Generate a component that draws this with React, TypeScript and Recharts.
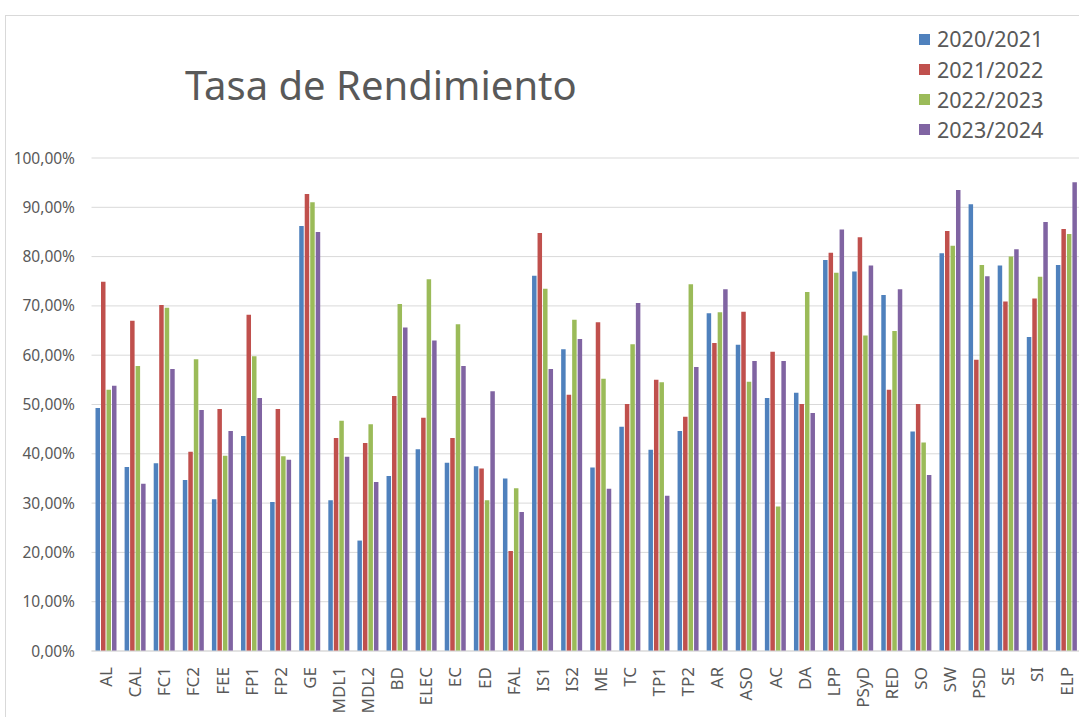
import { Bar, BarChart, CartesianGrid, Legend, XAxis, YAxis } from 'recharts'

const categories = [
  'AL', 'CAL', 'FC1', 'FC2', 'FEE', 'FP1', 'FP2', 'GE', 'MDL1', 'MDL2', 'BD', 'ELEC',
  'EC', 'ED', 'FAL', 'IS1', 'IS2', 'ME', 'TC', 'TP1', 'TP2', 'AR', 'ASO', 'AC', 'DA',
  'LPP', 'PSyD', 'RED', 'SO', 'SW', 'PSD', 'SE', 'SI', 'ELP',
]

const y2020 = [
  49.3, 37.3, 38.1, 34.7, 30.8, 43.6, 30.2, 86.2, 30.6, 22.4, 35.5, 40.9,
  38.2, 37.5, 35.0, 76.1, 61.2, 37.2, 45.5, 40.8, 44.6, 68.5, 62.1, 51.3, 52.4,
  79.3, 77.0, 72.2, 44.5, 80.7, 90.6, 78.2, 63.7, 78.3,
]
const y2021 = [
  74.9, 67.0, 70.2, 40.4, 49.1, 68.2, 49.1, 92.7, 43.2, 42.2, 51.7, 47.3,
  43.2, 37.0, 20.3, 84.8, 52.0, 66.7, 50.1, 55.0, 47.5, 62.5, 68.8, 60.7, 50.1,
  80.8, 83.9, 53.0, 50.1, 85.2, 59.1, 70.9, 71.5, 85.6,
]
const y2022 = [
  53.0, 57.8, 69.6, 59.2, 39.6, 59.8, 39.5, 91.0, 46.7, 46.0, 70.4, 75.4,
  66.3, 30.6, 33.0, 73.5, 67.2, 55.2, 62.2, 54.5, 74.4, 68.7, 54.6, 29.3, 72.8,
  76.7, 64.0, 64.9, 42.3, 82.2, 78.3, 80.0, 75.9, 84.6,
]
const y2023 = [
  53.8, 33.9, 57.2, 48.9, 44.6, 51.3, 38.8, 85.0, 39.4, 34.3, 65.6, 63.0,
  57.8, 52.7, 28.2, 57.2, 63.3, 32.9, 70.6, 31.5, 57.6, 73.4, 58.8, 58.8, 48.3,
  85.5, 78.2, 73.4, 35.7, 93.5, 76.0, 81.5, 87.0, 95.1,
]

const seriesNames = ['2020/2021', '2021/2022', '2022/2023', '2023/2024']
const seriesKeys = ['y2020', 'y2021', 'y2022', 'y2023']
const seriesColors = ['#4F81BD', '#C0504D', '#9BBB59', '#8064A2']
const yTicks = [0, 10, 20, 30, 40, 50, 60, 70, 80, 90, 100]

const data = categories.map((name, i) => ({
  name,
  y2020: y2020[i],
  y2021: y2021[i],
  y2022: y2022[i],
  y2023: y2023[i],
}))

const FONT = '"Noto Sans", sans-serif'
const TEXT = '#595959'
const GRID = '#D9D9D9'

function CategoryTick(props: any) {
  const { x, y, payload } = props
  return (
    <g transform={`translate(${x},${y})`}>
      <text
        transform='rotate(-90)'
        textAnchor='end'
        dy='0.36em'
        fill={TEXT}
        fontSize={17}
        fontFamily={FONT}
      >
        {payload.value}
      </text>
    </g>
  )
}

function renderLegend() {
  return (
    <div style={{ fontFamily: FONT }}>
      {seriesNames.map((name, i) => (
        <div
          key={name}
          style={{ display: 'flex', alignItems: 'center', height: 30.2 }}
        >
          <span
            style={{
              width: 11,
              height: 11,
              background: seriesColors[i],
              marginRight: 7,
              flex: 'none',
            }}
          />
          <span style={{ fontSize: 21.5, color: TEXT, lineHeight: 1 }}>{name}</span>
        </div>
      ))}
    </div>
  )
}

export default function App() {
  return (
    <div
      style={{
        position: 'fixed',
        left: 0,
        top: 0,
        width: 1079,
        height: 717,
        overflow: 'hidden',
        background: '#ffffff',
      }}
    >
      <div
        style={{
          position: 'absolute',
          left: 5,
          top: 15,
          width: 1200,
          height: 800,
          border: `1px solid ${GRID}`,
        }}
      />
      <div
        style={{
          position: 'absolute',
          left: 185,
          top: 65,
          fontFamily: FONT,
          fontSize: 40,
          lineHeight: 1,
          color: TEXT,
          whiteSpace: 'nowrap',
        }}
      >
        Tasa de Rendimiento
      </div>
      <div style={{ position: 'absolute', left: 0, top: 0 }}>
        <BarChart
          width={1090}
          height={717}
          data={data}
          margin={{ top: 158, right: 9, bottom: 0, left: 0 }}
          barSize={4.5}
          barGap={1}
        >
          <CartesianGrid vertical={false} stroke={GRID} strokeWidth={1} />
          <XAxis
            dataKey='name'
            interval={0}
            height={66}
            tickLine={false}
            tickSize={0}
            tickMargin={16}
            axisLine={{ stroke: GRID }}
            tick={<CategoryTick />}
          />
          <YAxis
            width={91.5}
            domain={[0, 100]}
            ticks={yTicks}
            interval={0}
            axisLine={false}
            tickLine={false}
            tickSize={0}
            tickMargin={16.5}
            tick={{ fill: TEXT, fontSize: 15.5, fontFamily: FONT }}
            tickFormatter={(v: number) => `${v.toFixed(2).replace('.', ',')}%`}
          />
          <Legend
            layout='vertical'
            align='center'
            verticalAlign='middle'
            content={renderLegend}
            wrapperStyle={{
              top: 24,
              left: 919,
              right: 'auto',
              bottom: 'auto',
              width: 160,
            }}
          />
          {seriesKeys.map((key, i) => (
            <Bar
              key={key}
              dataKey={key}
              name={seriesNames[i]}
              fill={seriesColors[i]}
              isAnimationActive={false}
            />
          ))}
        </BarChart>
      </div>
    </div>
  )
}
